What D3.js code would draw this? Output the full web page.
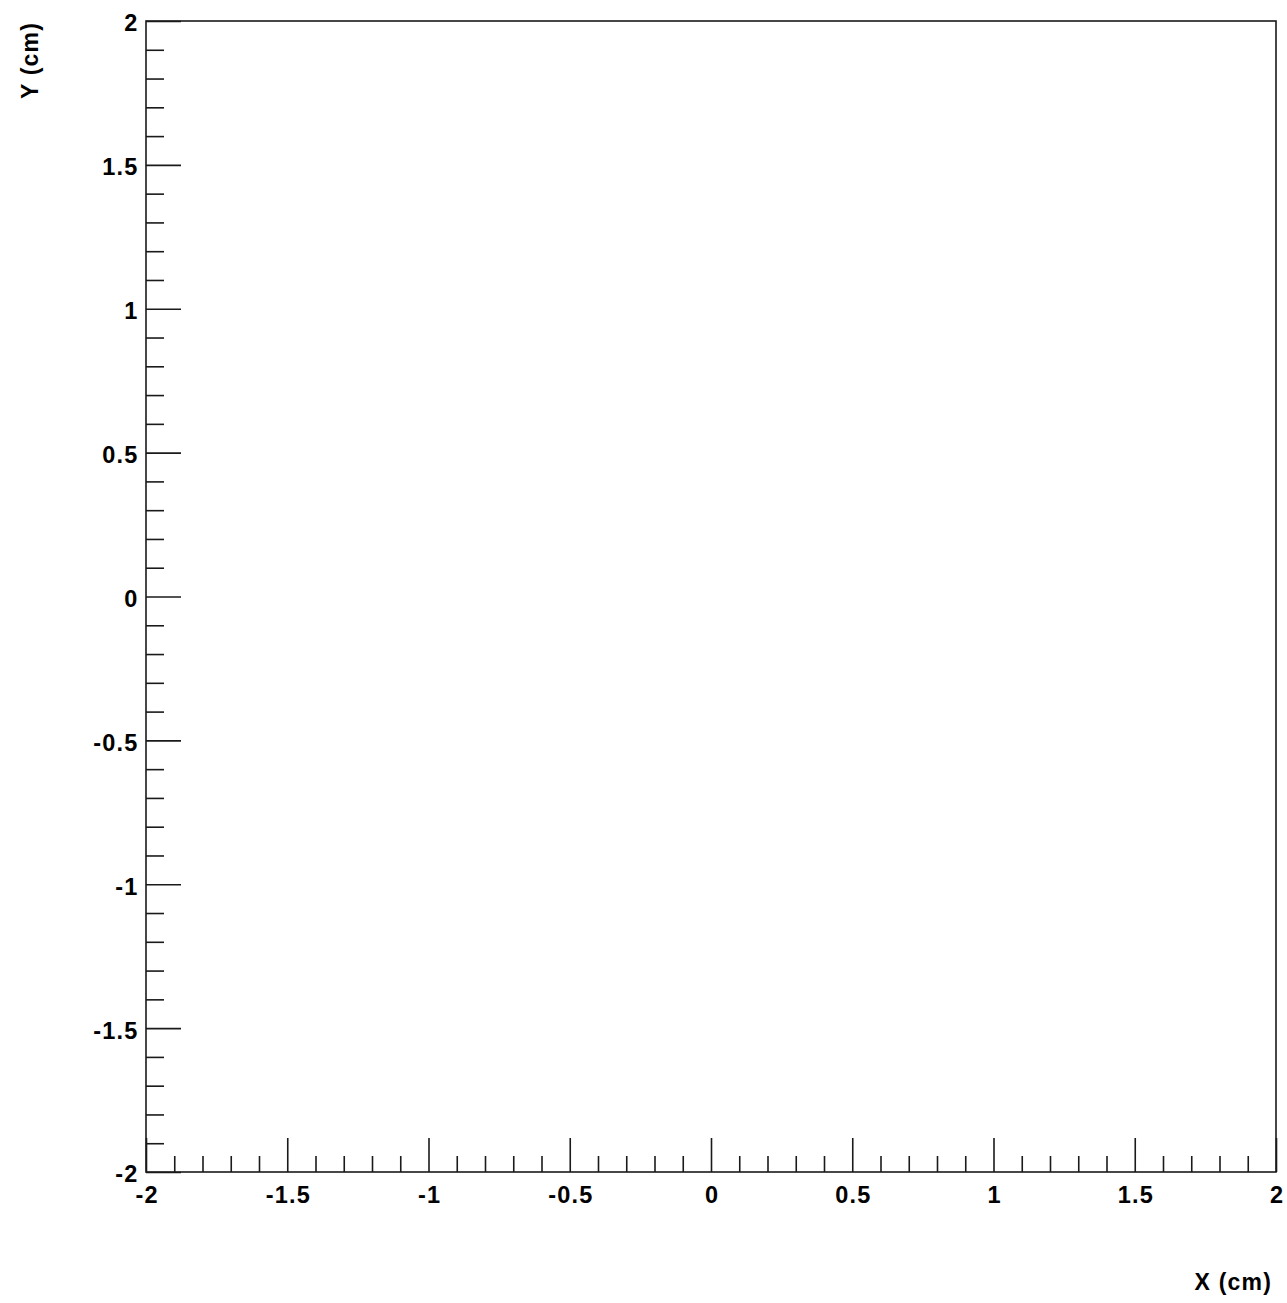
<!DOCTYPE html>
<html>
<head>
<meta charset="utf-8">
<script src="https://cdn.jsdelivr.net/npm/d3@7"></script>
<style>
  html, body { margin: 0; padding: 0; background: #fff; }
  svg { display: block; }
  .axis text { font-family: "Liberation Sans", Arial, sans-serif; font-weight: bold; font-size: 23.5px; letter-spacing: 1.2px; fill: #000; }
  .axis path, .axis line { stroke: #1a1a1a; stroke-width: 1.6; }
  .title { font-family: "Liberation Sans", Arial, sans-serif; font-weight: bold; font-size: 23px; letter-spacing: 1.2px; fill: #000; }
</style>
</head>
<body>
<svg id="chart" width="1287" height="1303"></svg>
<script>
// Axis ranges and tick values of the empty X–Y frame
const xDomain = [-2, 2];
const yDomain = [-2, 2];
const xMajorTicks = [-2, -1.5, -1, -0.5, 0, 0.5, 1, 1.5, 2];
const yMajorTicks = [-2, -1.5, -1, -0.5, 0, 0.5, 1, 1.5, 2];
const xTickLabels = ["-2", "-1.5", "-1", "-0.5", "0", "0.5", "1", "1.5", "2"];
const yTickLabels = ["-2", "-1.5", "-1", "-0.5", "0", "0.5", "1", "1.5", "2"];
const minorStep = 0.1;
const xTitle = "X (cm)";
const yTitle = "Y (cm)";

const svg = d3.select("#chart");
const frame = { left: 146, right: 1276, top: 21, bottom: 1172 };

const x = d3.scaleLinear().domain(xDomain).range([frame.left, frame.right]);
const y = d3.scaleLinear().domain(yDomain).range([frame.bottom, frame.top]);

const minorOf = (dom) => d3.range(Math.round((dom[1] - dom[0]) / minorStep) + 1)
  .map(i => +(dom[0] + i * minorStep).toFixed(6));

const xMinor = minorOf(xDomain).filter(v => !xMajorTicks.some(m => Math.abs(m - v) < 1e-9));
const yMinor = minorOf(yDomain).filter(v => !yMajorTicks.some(m => Math.abs(m - v) < 1e-9));

const xLabel = new Map(xMajorTicks.map((v, i) => [v, xTickLabels[i]]));
const yLabel = new Map(yMajorTicks.map((v, i) => [v, yTickLabels[i]]));

// Minor ticks (drawn inward, no labels)
svg.append("g").attr("class", "axis")
  .attr("transform", `translate(0,${frame.bottom})`)
  .call(d3.axisBottom(x).tickValues(xMinor).tickSize(-16).tickFormat(""))
  .call(g => g.select(".domain").remove());
svg.append("g").attr("class", "axis")
  .attr("transform", `translate(${frame.left},0)`)
  .call(d3.axisLeft(y).tickValues(yMinor).tickSize(-18).tickFormat(""))
  .call(g => g.select(".domain").remove());

// Major ticks with labels
const gx = svg.append("g").attr("class", "axis")
  .attr("transform", `translate(0,${frame.bottom})`)
  .call(d3.axisBottom(x).tickValues(xMajorTicks).tickSize(-34).tickPadding(14)
    .tickFormat(v => xLabel.get(v)))
  .call(g => g.select(".domain").remove());
gx.selectAll("text").attr("dy", "0.71em").attr("dx", 0.6);

const gy = svg.append("g").attr("class", "axis")
  .attr("transform", `translate(${frame.left},0)`)
  .call(d3.axisLeft(y).tickValues(yMajorTicks).tickSize(-35).tickPadding(8)
    .tickFormat(v => yLabel.get(v)))
  .call(g => g.select(".domain").remove());
gy.selectAll("text").attr("x", -7.5).attr("dy", "0.42em");

// Frame box
svg.append("rect")
  .attr("x", frame.left).attr("y", frame.top)
  .attr("width", frame.right - frame.left).attr("height", frame.bottom - frame.top)
  .attr("fill", "none").attr("stroke", "#1a1a1a").attr("stroke-width", 1.6);

// Axis titles
svg.append("text").attr("class", "title")
  .attr("x", 1272).attr("y", 1290).attr("text-anchor", "end")
  .text(xTitle);
svg.append("text").attr("class", "title")
  .attr("transform", "translate(38,22) rotate(-90)")
  .attr("text-anchor", "end")
  .text(yTitle);
</script>
</body>
</html>
